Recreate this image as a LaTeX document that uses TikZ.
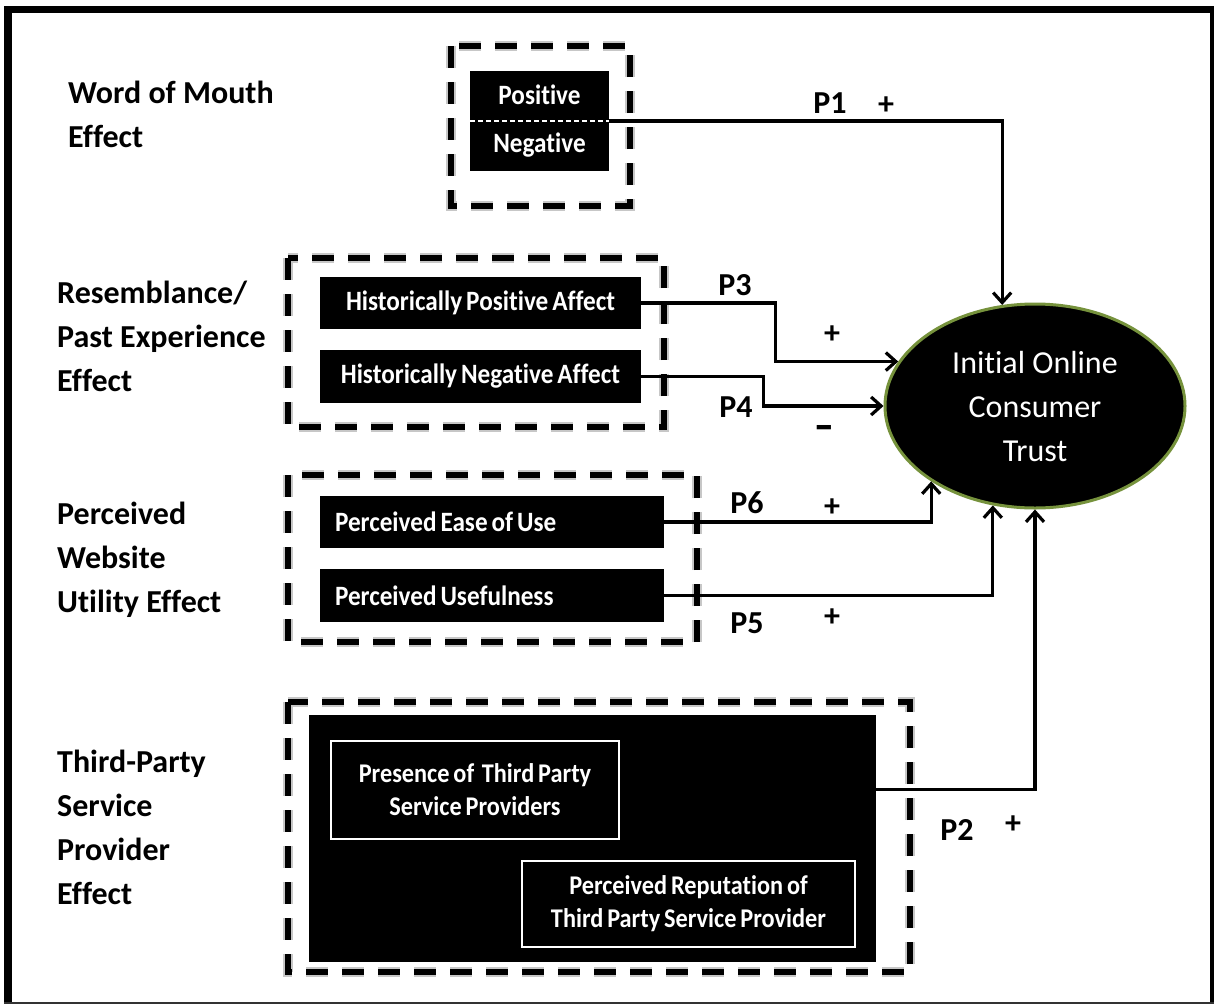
\documentclass[tikz,border=0pt]{standalone}
\usepackage{fontspec}
\setmainfont{Carlito}[Ligatures=NoCommon]
\newfontfamily\condfont{Carlito}[FakeStretch=0.9, Ligatures=NoCommon, WordSpace=0.7]
\usetikzlibrary{shapes.geometric,arrows.meta}
\definecolor{olivebd}{HTML}{76923C}
\begin{document}
\begin{tikzpicture}[x=1pt,y=-1pt,
  lbl/.style={font=\fontsize{32}{44}\selectfont\bfseries, align=left, anchor=west, inner sep=0pt},
  plbl/.style={font=\fontsize{32}{32}\selectfont\bfseries, inner sep=0pt},
  blk/.style={fill=black, draw=none, text=white, inner sep=0pt,
    font=\condfont\fontsize{28}{36}\selectfont\bfseries},
  wbox/.style={fill=black, draw=white, line width=2.5pt, text=white, inner sep=0pt, align=center,
    font=\condfont\fontsize{27}{33}\selectfont\bfseries},
  dshadow/.style={draw=black!22, line width=10pt, dash pattern=on 22pt off 14pt},
  dbox/.style={draw=black, line width=5.5pt, dash pattern=on 22pt off 14pt},
  conn/.style={line width=3.2pt, -{Straight Barb[length=10pt,width=18pt]}},
]
\useasboundingbox (0,0) rectangle (1214,1004);
\fill[white] (0,0) rectangle (1214,1004);
% outer frame
\fill[black] (4,6) rectangle (12,1004);
\fill[black] (4,6) rectangle (1214,13);
\fill[black] (1210,6) rectangle (1214,1004);
\fill[black!80] (4,1002) rectangle (1214,1004);

% dashed group boxes
\foreach \a/\b/\c/\d in {451/46/630/206, 288/258/664/427, 288/475/697/642, 288/702/910/972}{
  \draw[dshadow] (\a,\b) rectangle (\c,\d);
  \draw[dbox] (\a,\b) rectangle (\c,\d);
}

% left labels
\node[lbl] (wom) at (68,114) {Word of Mouth\\Effect};
\node[lbl] (res) at (57,336) {Resemblance/\\Past Experience\\Effect};
\node[lbl] (pwu) at (57,560) {Perceived\\Website\\Utility Effect};
\node[lbl] (tps) at (57,827) {Third-Party\\Service\\Provider\\Effect};

% black boxes
\node[blk, minimum width=139pt, minimum height=100pt, align=center,
  font=\condfont\fontsize{28}{48}\selectfont\bfseries] (pn) at (539.5,121) {Positive\\Negative};
\draw[white, line width=1.5pt, dash pattern=on 5pt off 3pt] (pn.west) -- (pn.east);
\node[blk, minimum width=321pt, minimum height=52pt] (hp) at (480.5,303) {Historically Positive Affect};
\node[blk, minimum width=321pt, minimum height=53pt] (hn) at (480.5,376.5) {Historically Negative Affect};
\node[blk, minimum width=344pt, minimum height=52pt] (peou) at (492,522) {\makebox[314pt][l]{Perceived Ease of Use}};
\node[blk, minimum width=344pt, minimum height=53pt] (pu) at (492,595.5) {\makebox[314pt][l]{Perceived Usefulness}};
\node[fill=black, minimum width=567pt, minimum height=247pt, inner sep=0pt] (tp) at (592.5,838.5) {};
\node[wbox, minimum width=288pt, minimum height=98pt] (pres) at (475,790) {Presence of\ \ Third Party\\Service Providers};
\node[wbox, minimum width=333pt, minimum height=86pt] (rep) at (688.5,904) {Perceived Reputation of\\Third Party Service Provider};

% ellipse
\node[ellipse, fill=black, draw=olivebd, line width=3pt, minimum width=300pt, minimum height=204pt,
  inner sep=0pt, text=white, align=center, font=\fontsize{32}{44}\selectfont] (trust) at (1035,406)
  {Initial Online\\Consumer\\Trust};

% connectors
\draw[conn] (pn.east) -| (trust.108);
\draw[conn] (hp.east) -- ++(134,0) |- (trust.162);
\draw[conn] (hn.east) -- ++(122,0) |- (trust.west);
\draw[conn] (peou.east) -| (trust.216);
\draw[conn] (pu.east) -| (trust.247);
\draw[conn] ([yshift=-75pt]tp.north east) -| (trust.south);

% path labels
\node[plbl] (p1) at (830,103) {P1};
\node[plbl] (s1) at (886,106) {+};
\node[plbl] (p3) at (735,285) {P3};
\node[plbl] (s3) at (832,335) {+};
\node[plbl] (p4) at (736,407) {P4};
\node[plbl] (s4) at (824,432) {\scalebox{1.8}[1.3]{-}};
\node[plbl] (p6) at (747,503) {P6};
\node[plbl] (s6) at (832,508) {+};
\node[plbl] (p5) at (747,623) {P5};
\node[plbl] (s5) at (832,618) {+};
\node[plbl] (p2) at (957,830) {P2};
\node[plbl] (s2) at (1013,825) {+};
\end{tikzpicture}
\end{document}
